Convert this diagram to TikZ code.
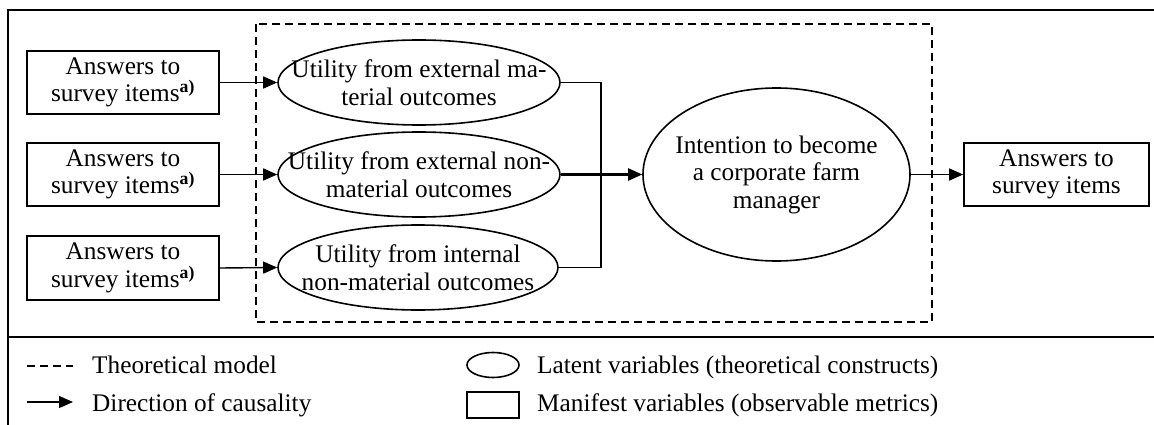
\documentclass[tikz,border=0pt]{standalone}
\usepackage{fontspec}
\setmainfont{Liberation Serif}
\usetikzlibrary{shapes.geometric,arrows.meta}
\tikzset{
  base/.style={font=\fontsize{25.3}{27.5}\selectfont},
  manifest/.style={draw, line width=1.6pt, rectangle, inner sep=0pt, align=center, base},
  latent/.style={draw, line width=1.6pt, ellipse, inner sep=0pt},
  ltext/.style={align=center, base, inner sep=0pt},
  causal/.style={line width=1.4pt, -{Triangle[length=14pt,width=12pt]}},
  link/.style={line width=1.4pt},
  model/.style={line width=1.3pt, dash pattern=on 8pt off 5pt},
  frame/.style={line width=2pt},
}
\newcommand{\supa}{\textsuperscript{\textbf{a)}}}
\begin{document}
\begin{tikzpicture}[x=1pt, y=-1pt]
\useasboundingbox (0,0) rectangle (1154,425);

% outer frame and separator
\draw[frame] (8,425) -- (8,10) -- (1154,10);
\draw[line width=1.2pt] (8,337) -- (1154,337);

% theoretical model boundary
\draw[model] (256,24) rectangle (932,322);

% manifest variables
\node[manifest, minimum width=192pt, minimum height=63pt] (m1) at (123,82.5) {Answers to\\survey items\supa};
\node[manifest, minimum width=192pt, minimum height=63pt] (m2) at (123,174.5) {Answers to\\survey items\supa};
\node[manifest, minimum width=192pt, minimum height=64pt] (m3) at (123,268) {Answers to\\survey items\supa};
\node[manifest, minimum width=185pt, minimum height=63pt] (mo) at (1056.5,174.5) {Answers to\\survey items};

% latent variables
\node[latent, minimum width=282pt, minimum height=85pt] (e1) at (419,82.5) {};
\node[ltext] at (e1) {Utility from external ma-\\terial outcomes};
\node[latent, minimum width=282pt, minimum height=85pt] (e2) at (419,174.5) {};
\node[ltext] at (e2) {Utility from external non-\\material outcomes};
\node[latent, minimum width=280pt, minimum height=85pt] (e3) at (418,267.5) {};
\node[ltext] at (e3) {Utility from internal\\non-material outcomes};
\node[latent, minimum width=267pt, minimum height=173pt] (it) at (776.5,174.5) {};
\node[ltext] at (it) {Intention to become\\a corporate farm\\manager};

% measurement arrows
\draw[causal] (m1.east) -- (e1.west);
\draw[causal] (m2.east) -- (e2.west);
\draw[causal] (m3.east) -- (e3.west);

% structural paths
\coordinate (j) at (601,174.5);
\draw[link] (e1.east) -| (j);
\draw[link] (e3.east) -| (j);
\draw[causal, line width=2.2pt] (e2.east) -- (it.west);
\draw[causal] (it.east) -- (mo.west);

% legend
\coordinate (ld1) at (27,366);
\coordinate (ld2) at (73,366);
\draw[model] (ld1) -- (ld2);
\node[base, anchor=base west, inner sep=0pt] (lt1) at (92,373) {Theoretical model};
\coordinate (la1) at (27,402);
\coordinate (la2) at (73,402);
\draw[causal] (la1) -- (la2);
\node[base, anchor=base west, inner sep=0pt] (lt2) at (92,411) {Direction of causality};
\node[latent, minimum width=52pt, minimum height=25pt] (le) at (493,365) {};
\node[base, anchor=base west, inner sep=0pt] (lt3) at (537,373) {Latent variables (theoretical constructs)};
\node[draw, line width=1.6pt, minimum width=52pt, minimum height=26pt, inner sep=0pt] (lr) at (493,405) {};
\node[base, anchor=base west, inner sep=0pt] (lt4) at (537,411) {Manifest variables (observable metrics)};
\end{tikzpicture}
\end{document}
